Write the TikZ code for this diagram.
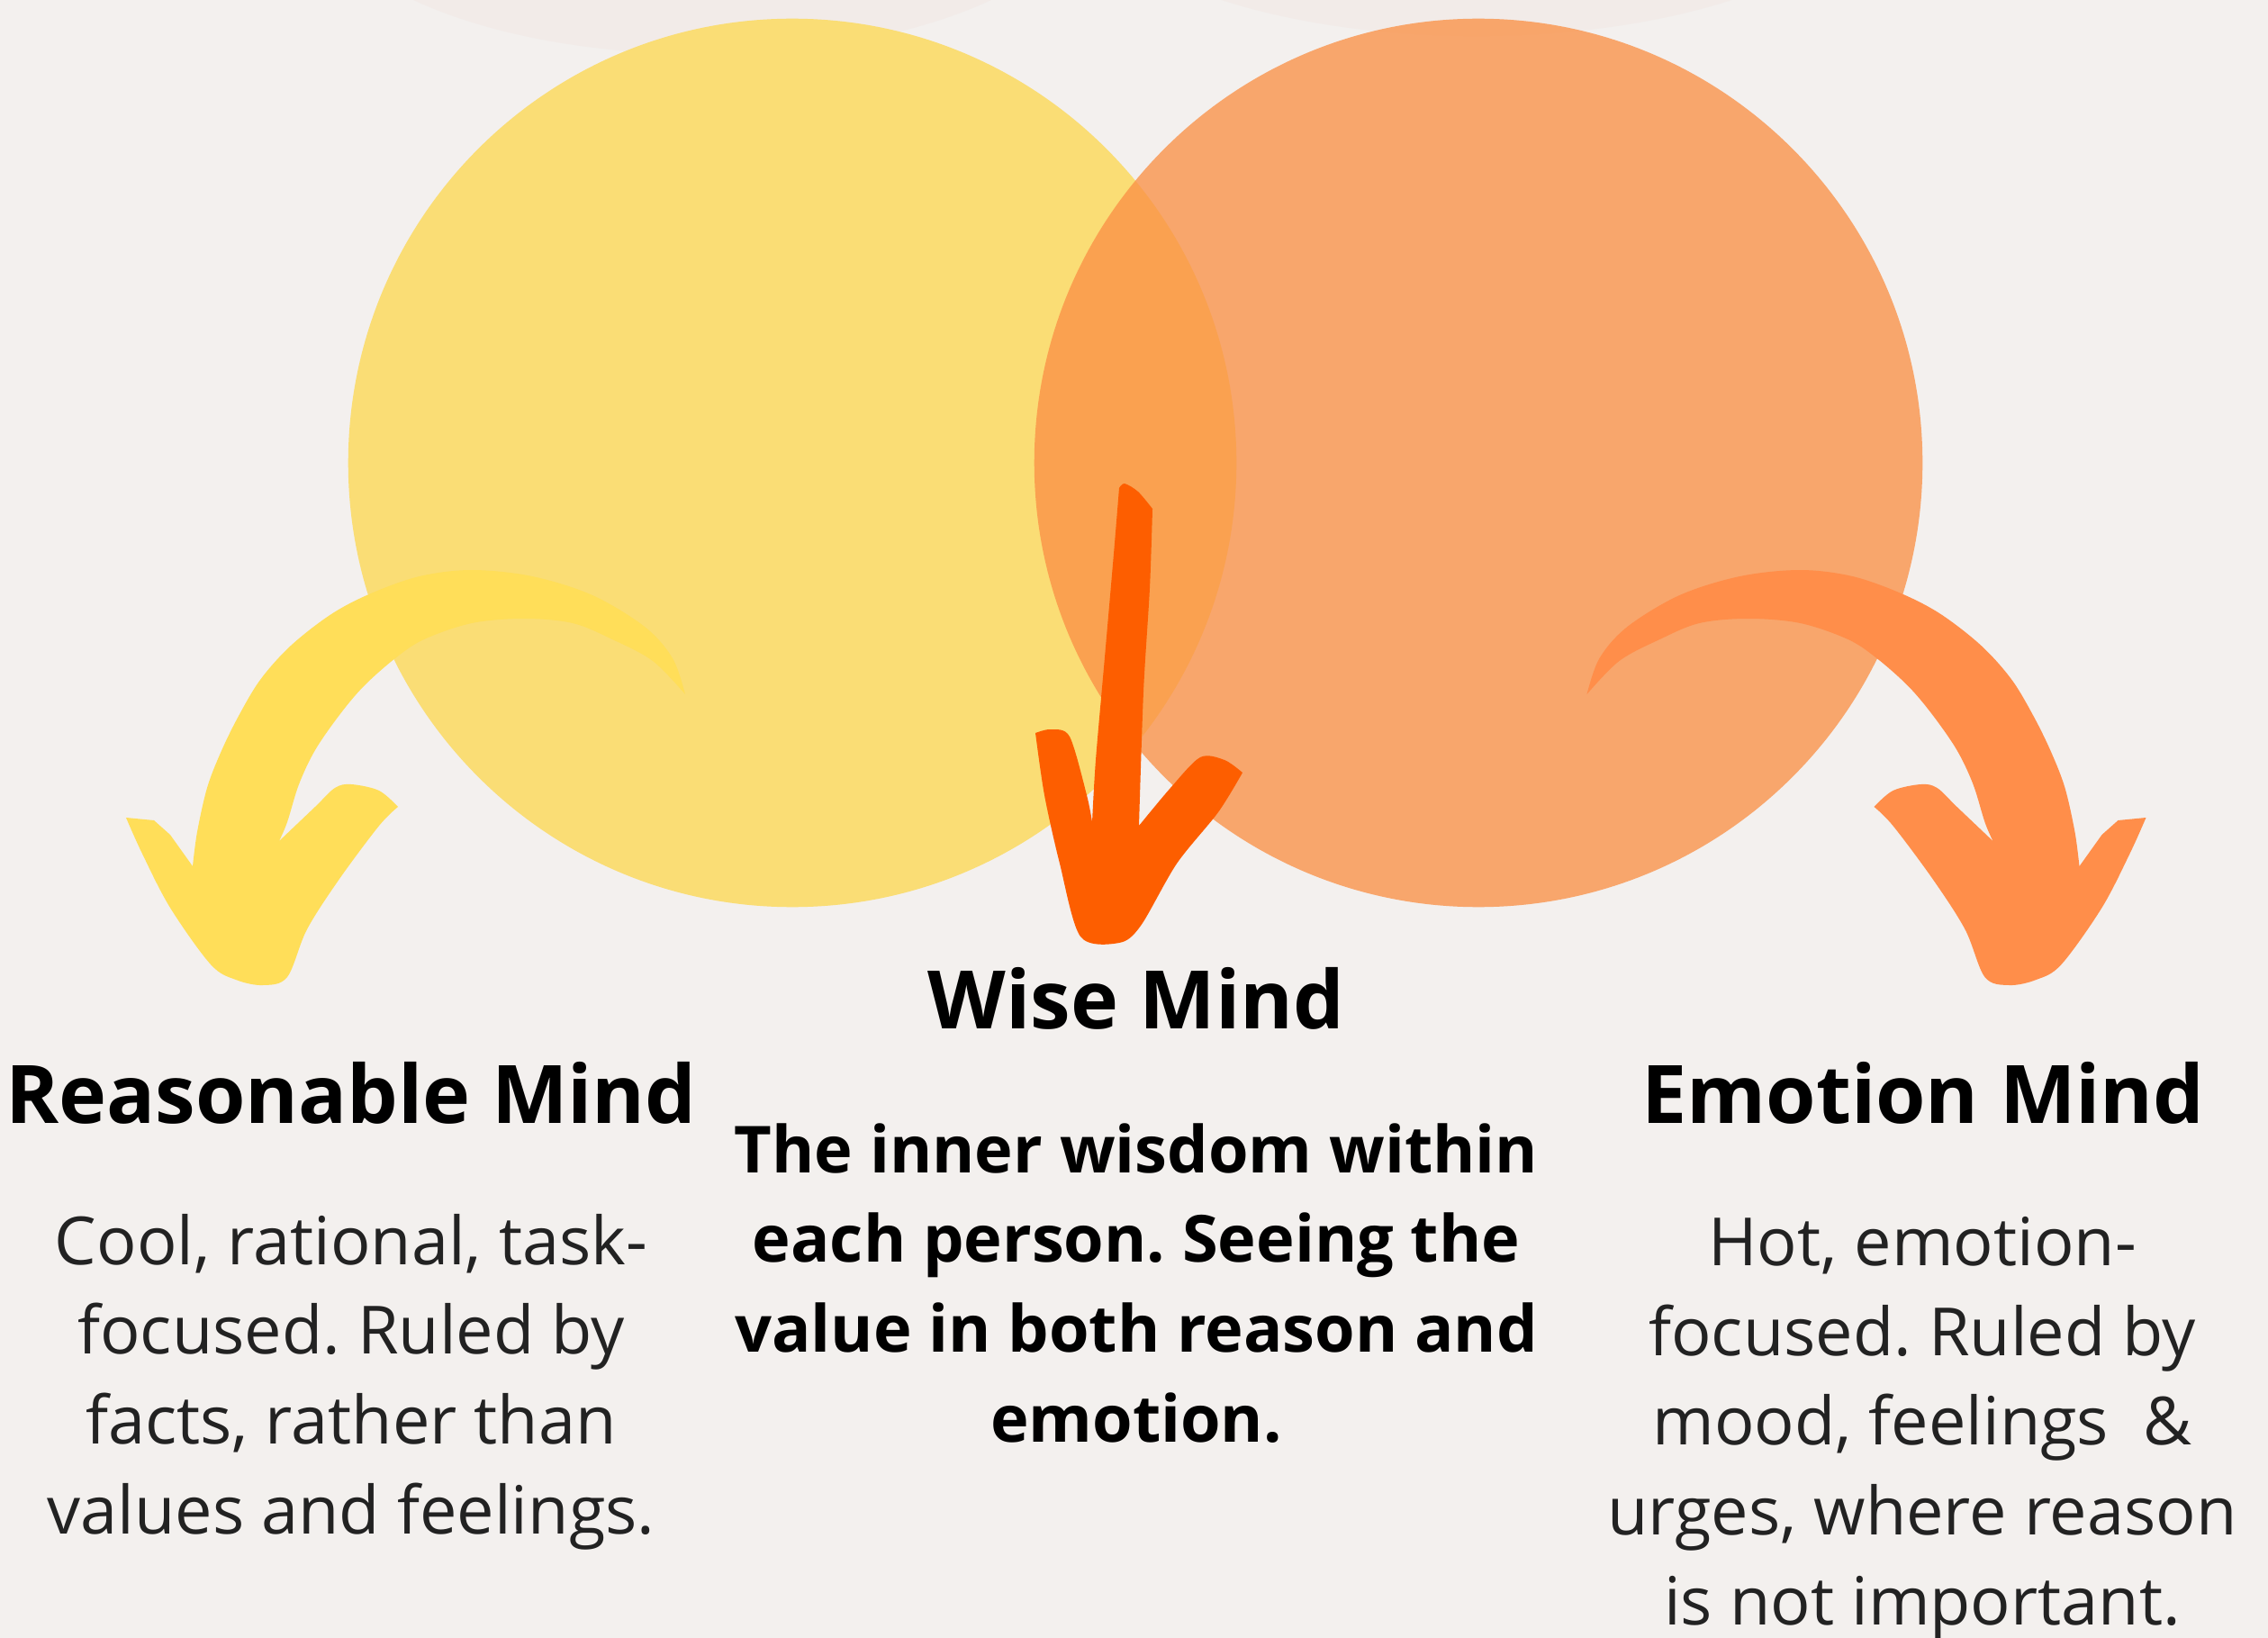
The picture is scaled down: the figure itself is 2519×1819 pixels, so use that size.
\documentclass[tikz,border=0pt]{standalone}
\usepackage{fontspec}
\setmainfont{Open Sans}
\usepackage{tikz}
\frenchspacing

\definecolor{paper}{HTML}{F3F0EE}
\definecolor{haze}{HTML}{F2EBE8}
\definecolor{reasonfill}{HTML}{FADD75}
\definecolor{emotionfill}{HTML}{FA9045}
\definecolor{reasonarrow}{HTML}{FFDE59}
\definecolor{emotionarrow}{HTML}{FF8E4A}
\definecolor{wisearrow}{HTML}{FD5E00}
\definecolor{bodytext}{HTML}{222222}

% curved arrow on the left side, mirrored for the right side
\newcommand{\sidearrow}{
  plot[smooth,tension=0.55] coordinates {(761,771) (747,731) (716,696) (658,661) (591,640) (524,633) (466,640) (412,659) (368,682) (323,717) (289,755) (264,797) (245,836) (230,875) (219,924) (214,962)}
  -- (189,927) -- (171,911) -- (140,908)
  -- plot[smooth,tension=0.55] coordinates {(140,908) (158,948) (189,1008) (234,1071) (262,1088) (292,1094) (319,1085) (341,1032) (377,976) (421,917) (442,896)}
  -- plot[smooth,tension=0.55] coordinates {(442,896) (421,878) (390,871) (372,875) (350,896) (310,934)}
  -- plot[smooth,tension=0.55] coordinates {(310,934) (319,913) (332,871) (350,833) (377,794) (404,762) (439,731) (471,710) (524,692) (582,687) (636,692) (680,710) (725,734) (761,771)}
  -- cycle
}

\begin{document}
\begin{tikzpicture}[x=0.01cm,y=-0.01cm,
  title/.style={font=\fontsize{25.5}{30}\selectfont\bfseries, inner sep=0pt, anchor=base},
  blurb/.style={font=\fontsize{21}{28.3}\selectfont, text=bodytext, align=center, inner sep=0pt, anchor=base},
  wiseblurb/.style={font=\fontsize{20.5}{28.3}\selectfont\bfseries, align=center, inner sep=0pt, anchor=base}]
\useasboundingbox (0,0) rectangle (2519,1819);
\clip (0,0) rectangle (2519,1819);
\fill[paper] (0,0) rectangle (2519,1819);

% faint shapes at the top edge
\fill[haze] (780,-120) ellipse [x radius=4.3cm, y radius=1.8cm];
\fill[haze] (1640,-140) ellipse [x radius=4.5cm, y radius=1.8cm];

% the two minds
\coordinate (reason) at (880,514);
\coordinate (emotion) at (1642,514);
\fill[reasonfill] (reason) circle [radius=4.93cm];
\fill[emotionfill,opacity=0.77] (emotion) circle [radius=4.93cm];

% arrows
\fill[reasonarrow] \sidearrow;
\begin{scope}[xshift=25.22cm,xscale=-1]
\fill[emotionarrow] \sidearrow;
\end{scope}
\fill[wisearrow]
  plot[smooth,tension=0.5] coordinates {(1213,913) (1217,844) (1227,730) (1237,615) (1243,542)}
  -- plot[smooth,tension=0.5] coordinates {(1243,542) (1249,537) (1264,546) (1280,565)}
  -- plot[smooth,tension=0.5] coordinates {(1280,565) (1277,653) (1270,768) (1265,917)}
  -- plot[smooth,tension=0.5] coordinates {(1265,917) (1300,875) (1333,841) (1360,844) (1380,858)}
  -- plot[smooth,tension=0.5] coordinates {(1380,858) (1353,902) (1307,959) (1267,1028) (1243,1047) (1200,1040) (1177,959) (1160,883) (1150,814)}
  -- plot[smooth,tension=0.5] coordinates {(1150,814) (1167,810) (1188,818) (1207,883) (1213,913)}
  -- cycle;

% labels (multi-line blocks sit on the baseline of their last line)
\node[title] (reasontitle) at (390,1247) {Reasonable Mind};
\node[blurb] (reasontext) at (390,1703) {Cool, rational, task-\\focused. Ruled by\\facts, rather than\\values and feelings.};
\node[title] (wisetitle) at (1262,1142) {Wise Mind};
\node[wiseblurb] (wisetext) at (1262,1601) {The inner wisdom within\\each person. Seeing the\\value in both reason and\\emotion.};
\node[title] (emotiontitle) at (2136,1247) {Emotion Mind};
\node[blurb] (emotiontext) at (2135,1804) {Hot, emotion-\\focused. Ruled by\\mood, feelings\ \ \&\\urges, where reason\\is not important.};
\end{tikzpicture}
\end{document}
